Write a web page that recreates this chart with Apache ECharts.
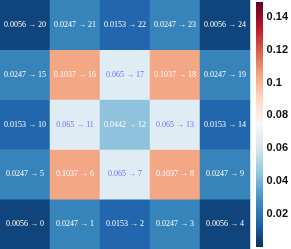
<!DOCTYPE html>
<html><head><meta charset="utf-8">
<script src="https://cdn.jsdelivr.net/npm/echarts@6/dist/echarts.min.js"></script>
<style>html,body{margin:0;padding:0;background:#fff}#c{width:291px;height:249px}</style>
</head><body><div id="c"></div>
<script>
// grid values, rows from bottom (row 0) to top (row 4); cell index = row*5 + col
const cols = ['0','1','2','3','4'];
const rows = ['0','1','2','3','4'];
const row0 = [0.0056, 0.0247, 0.0153, 0.0247, 0.0056];
const row1 = [0.0247, 0.1037, 0.065, 0.1037, 0.0247];
const row2 = [0.0153, 0.065, 0.0442, 0.065, 0.0153];
const row3 = [0.0247, 0.1037, 0.065, 0.1037, 0.0247];
const row4 = [0.0056, 0.0247, 0.0153, 0.0247, 0.0056];
const colorTicks = [0.02, 0.04, 0.06, 0.08, 0.1, 0.12, 0.14];
const vmin = 0, vmax = 0.149;

const gridVals = [row0, row1, row2, row3, row4];
const data = [];
gridVals.forEach((r, y) => r.forEach((v, x) => {
  data.push({
    value: [x, y, v],
    label: { color: (v > 0.055 && v < 0.085) ? '#7070ff' : '#ffffff' }
  });
}));
const RdBu_r = ['#053061','#2166ac','#4393c3','#92c5de','#d1e5f0','#f7f7f7','#fddbc7','#f4a582','#d6604d','#b2182b','#67001f'];

const chart = echarts.init(document.getElementById('c'), null, {renderer: 'canvas'});
chart.setOption({
  animation: false,
  grid: [
    {left: 0, top: 0, width: 250, height: 249},
    {left: 256, top: 2, width: 7, height: 245}
  ],
  xAxis: [
    {type: 'category', data: cols, gridIndex: 0, show: false},
    {type: 'value', gridIndex: 1, show: false, min: 0, max: 1}
  ],
  yAxis: [
    {type: 'category', data: rows, gridIndex: 0, show: false},
    {type: 'value', gridIndex: 1, min: vmin, max: vmax, interval: 0.02, position: 'right',
     axisLine: {show: false}, splitLine: {show: false},
     axisTick: {show: false},
     axisLabel: {show: true, margin: 6, fontFamily: 'Liberation Sans', fontSize: 11, fontWeight: 'bold', color: '#111',
       showMinLabel: false, showMaxLabel: false,
       formatter: v => {
         const t = colorTicks.find(c => Math.abs(c - v) < 1e-6);
         return t === undefined ? '' : String(t);
       }}}
  ],
  visualMap: {
    type: 'continuous', min: vmin, max: vmax, seriesIndex: 0, show: false,
    inRange: {color: RdBu_r}
  },
  graphic: [{
    type: 'rect', left: 256, top: 2, silent: true,
    shape: {width: 7, height: 245},
    style: {
      fill: new echarts.graphic.LinearGradient(0, 1, 0, 0,
        RdBu_r.map((c, i) => ({offset: i / (RdBu_r.length - 1), color: c})))
    }
  }],
  series: [{
    type: 'heatmap', xAxisIndex: 0, yAxisIndex: 0,
    data: data,
    label: {
      show: true, fontFamily: 'Liberation Serif', fontSize: 8,
      formatter: p => p.value[2] + ' \u2192 ' + (p.value[1] * 5 + p.value[0])
    },
    itemStyle: {borderWidth: 0},
    emphasis: {disabled: true}
  }]
});
</script></body></html>
